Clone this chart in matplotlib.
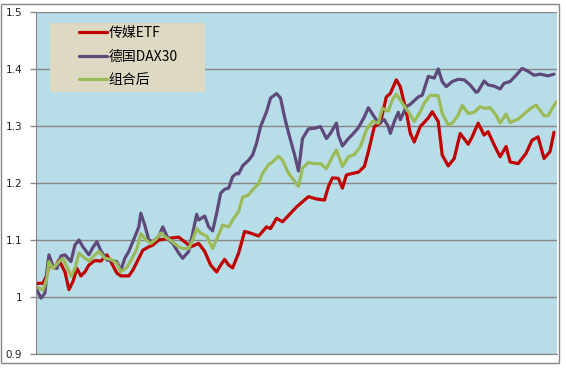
import matplotlib
matplotlib.use("Agg")
import matplotlib.pyplot as plt
import matplotlib.ticker as ticker
from matplotlib.patches import Rectangle

# trading day index (about one year) and normalised values
media_day = [0, 3, 5, 6, 9, 11, 14, 16, 18, 20, 22, 24, 26, 29, 32, 35, 37, 40, 42, 46,
             48, 51, 53, 56, 58, 61, 63, 66, 71, 75, 77, 81, 84, 87, 90, 92, 94, 96, 98, 101,
             104, 107, 111, 115, 117, 120, 123, 126, 130, 133, 136, 140, 144, 146, 148, 151, 153, 155, 157, 161,
             164, 166, 169, 172, 175, 177, 180, 182, 185, 187, 189, 192, 196, 198, 201, 203, 206, 209, 212, 216,
             218, 221, 224, 226, 229, 232, 235, 237, 241, 245, 248, 251, 254, 257, 259]
media_val = [1.024, 1.024, 1.039, 1.056, 1.051, 1.065, 1.044, 1.013, 1.027, 1.050, 1.037, 1.044, 1.056, 1.064, 1.063, 1.074, 1.062, 1.042, 1.037, 1.037,
             1.047, 1.068, 1.082, 1.088, 1.091, 1.100, 1.101, 1.103, 1.105, 1.094, 1.088, 1.094, 1.080, 1.056, 1.044, 1.056, 1.066, 1.056, 1.051, 1.077,
             1.115, 1.112, 1.107, 1.123, 1.120, 1.138, 1.132, 1.143, 1.158, 1.167, 1.176, 1.172, 1.170, 1.194, 1.209, 1.208, 1.191, 1.214, 1.216, 1.219,
             1.229, 1.255, 1.299, 1.305, 1.351, 1.357, 1.381, 1.369, 1.325, 1.287, 1.272, 1.299, 1.314, 1.325, 1.308, 1.249, 1.230, 1.243, 1.287, 1.268,
             1.281, 1.305, 1.284, 1.290, 1.267, 1.246, 1.264, 1.237, 1.234, 1.252, 1.275, 1.281, 1.243, 1.255, 1.289]

dax_day = [0, 2, 4, 5, 6, 8, 10, 12, 14, 17, 19, 21, 23, 26, 28, 30, 32, 35, 37, 40,
           42, 44, 46, 48, 51, 52, 54, 56, 58, 61, 63, 66, 68, 71, 73, 76, 78, 80, 81, 84,
           86, 88, 90, 92, 94, 96, 98, 100, 101, 103, 106, 108, 110, 112, 115, 117, 120, 122, 124, 126,
           129, 131, 133, 136, 139, 142, 145, 147, 150, 151, 153, 156, 158, 161, 164, 166, 169, 171, 174, 176,
           177, 179, 181, 182, 185, 187, 191, 193, 196, 199, 201, 203, 205, 208, 211, 214, 217, 220, 221, 224,
           226, 229, 232, 234, 237, 240, 243, 246, 249, 252, 256, 259]
dax_val = [1.012, 0.998, 1.007, 1.047, 1.074, 1.054, 1.050, 1.072, 1.074, 1.062, 1.091, 1.100, 1.088, 1.074, 1.087, 1.097, 1.081, 1.065, 1.064, 1.062,
           1.047, 1.068, 1.080, 1.097, 1.123, 1.147, 1.126, 1.100, 1.097, 1.106, 1.123, 1.100, 1.094, 1.077, 1.068, 1.080, 1.112, 1.145, 1.135, 1.142,
           1.123, 1.116, 1.147, 1.182, 1.189, 1.191, 1.211, 1.217, 1.216, 1.230, 1.240, 1.249, 1.270, 1.299, 1.325, 1.349, 1.357, 1.349, 1.316, 1.288,
           1.250, 1.221, 1.278, 1.295, 1.296, 1.299, 1.278, 1.287, 1.305, 1.284, 1.265, 1.278, 1.285, 1.297, 1.316, 1.332, 1.316, 1.305, 1.311, 1.299,
           1.287, 1.308, 1.324, 1.311, 1.334, 1.338, 1.351, 1.354, 1.387, 1.384, 1.400, 1.378, 1.369, 1.378, 1.382, 1.381, 1.372, 1.359, 1.361, 1.379,
           1.372, 1.370, 1.365, 1.375, 1.378, 1.389, 1.401, 1.396, 1.389, 1.391, 1.388, 1.391]

mix_day = [0, 3, 5, 6, 8, 11, 13, 15, 17, 19, 21, 23, 26, 29, 31, 34, 37, 40, 42, 45,
           47, 50, 52, 55, 57, 60, 62, 64, 67, 71, 73, 76, 78, 80, 82, 85, 88, 90, 93, 96,
           98, 101, 103, 106, 108, 111, 113, 116, 118, 121, 123, 126, 128, 131, 133, 136, 139, 142, 145, 148,
           150, 153, 156, 159, 162, 165, 168, 171, 173, 176, 178, 180, 183, 186, 189, 192, 194, 197, 201, 203,
           206, 208, 211, 213, 216, 219, 222, 224, 227, 230, 232, 235, 237, 241, 244, 247, 250, 254, 256, 260]
mix_val = [1.018, 1.012, 1.033, 1.062, 1.050, 1.062, 1.068, 1.053, 1.036, 1.050, 1.077, 1.071, 1.063, 1.074, 1.080, 1.068, 1.066, 1.059, 1.044, 1.052,
           1.064, 1.084, 1.111, 1.099, 1.094, 1.103, 1.112, 1.106, 1.099, 1.088, 1.085, 1.085, 1.100, 1.120, 1.112, 1.107, 1.085, 1.101, 1.126, 1.123,
           1.135, 1.150, 1.175, 1.179, 1.188, 1.199, 1.217, 1.232, 1.237, 1.247, 1.240, 1.217, 1.208, 1.194, 1.226, 1.236, 1.234, 1.234, 1.225, 1.246,
           1.258, 1.229, 1.246, 1.250, 1.264, 1.293, 1.308, 1.305, 1.331, 1.326, 1.346, 1.356, 1.340, 1.325, 1.308, 1.325, 1.340, 1.354, 1.353, 1.322,
           1.302, 1.305, 1.319, 1.336, 1.322, 1.324, 1.334, 1.331, 1.332, 1.319, 1.305, 1.321, 1.306, 1.312, 1.321, 1.330, 1.337, 1.318, 1.318, 1.342]

names = ["传媒ETF", "德国DAX30", "组合后"]
colors = ["#C00000", "#5F497A", "#9BBB59"]

fig = plt.figure(figsize=(5.66, 3.68), dpi=100)
fig.patch.set_facecolor("white")
# outer chart border
fig.patches.append(Rectangle((1 / 566, 5 / 368), 557.5 / 566, 359 / 368, transform=fig.transFigure,
                             fill=False, edgecolor="#868686", linewidth=1.0))

ax = fig.add_axes([36 / 566, 14 / 368, 521 / 566, 342 / 368])
ax.set_facecolor("#B7DEE8")

for d, v, c, n in zip([media_day, dax_day, mix_day], [media_val, dax_val, mix_val], colors, names):
    ax.plot(d, v, color=c, linewidth=2.3, label=n, solid_joinstyle="round", solid_capstyle="round")

ax.set_xlim(-0.5, 260.5)
ax.set_ylim(0.9, 1.5)
ax.yaxis.set_major_locator(ticker.MultipleLocator(0.1))
ax.yaxis.set_major_formatter(ticker.FuncFormatter(lambda v, p: "%g" % round(v, 1)))
ax.grid(axis="y", color="#868686", linewidth=1.0)
ax.set_axisbelow(True)
ax.set_xticks([])
for s in ["top", "right"]:
    ax.spines[s].set_visible(False)
for s in ["left", "bottom"]:
    ax.spines[s].set_color("#868686")
ax.tick_params(axis="y", length=4, width=1, color="#868686", pad=6, labelsize=7.5, labelcolor="#222222")

# legend background box
ax.add_patch(Rectangle((14 / 521, 262 / 342), 155 / 521, 69 / 342, transform=ax.transAxes,
                       facecolor="#DDD9C3", edgecolor="none", zorder=3))
leg = ax.legend(loc="upper left", bbox_to_anchor=(39 / 521, 332 / 342), frameon=False,
                borderpad=0.3, borderaxespad=0, handlelength=2.0, handletextpad=0.1,
                labelspacing=0.68, prop={"family": ["Noto Sans CJK SC", "DejaVu Sans"], "size": 10})
leg.set_zorder(4)

fig.savefig("out.png", dpi=100)
